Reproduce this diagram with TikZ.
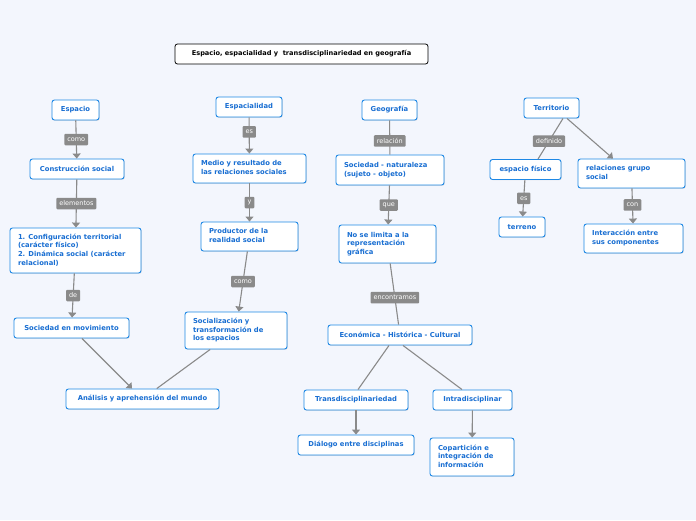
\documentclass[tikz,border=0pt]{standalone}
\usepackage{fontspec}
\setmainfont{DejaVu Sans}
\usetikzlibrary{arrows.meta,shadows}
\definecolor{bg}{RGB}{243,246,253}
\definecolor{bblue}{RGB}{30,136,229}
\definecolor{tblue}{RGB}{24,110,210}
\definecolor{lgrey}{RGB}{138,138,138}
\newcommand{\mlines}[2]{\makebox[#1][l]{\begin{tabular}{@{}l@{}}#2\end{tabular}}}
\tikzset{
  box/.style={draw=bblue, line width=0.9pt, fill=white, rounded corners=2.5pt,
    text=tblue, font=\bfseries\fontsize{6.8}{8.6}\selectfont, minimum height=20pt,
    inner xsep=8pt, inner ysep=2pt,
    drop shadow={shadow xshift=0.7pt, shadow yshift=-0.7pt, opacity=0.25, fill=black!60}},
  titlebox/.style={draw=black, line width=0.8pt, fill=white, rounded corners=2.5pt,
    text=black, font=\bfseries\fontsize{6.6}{8.5}\selectfont, minimum height=20pt},
  lbl/.style={fill=lgrey, text=white, font=\fontsize{6.5}{7}\selectfont, rounded corners=1pt,
    inner xsep=3pt, inner ysep=0pt, minimum height=11.5pt},
  conn/.style={draw=lgrey, line width=1.1pt},
  arr/.style={conn, -{Triangle[width=8pt,length=5pt]}}
}
\begin{document}
\begin{tikzpicture}[x=1pt,y=-1pt]
\useasboundingbox (0,0) rectangle (696,520);
\fill[bg] (0,0) rectangle (696,520);

% title
\node[titlebox, minimum width=253pt] (title) at (301.5,54) {Espacio, espacialidad y~ transdisciplinariedad en geografía};

% column 1
\node[box, minimum width=47pt] (espacio) at (75.5,110) {Espacio};
\node[box, minimum width=94pt] (cons) at (77,169) {Construcción social};
\node[box, minimum height=45pt] (config) at (75.5,250.5) {\mlines{115pt}{1. Configuración territorial\\(carácter físico)\\2. Dinámica social (carácter\\relacional)}};
\node[box, minimum width=115pt] (socmov) at (71.5,328) {Sociedad en movimiento};
\node[box, minimum width=153pt] (analisis) at (142.5,399) {Análisis y aprehensión del mundo};

% column 2
\node[box, minimum width=66pt] (espacialidad) at (249,107) {Espacialidad};
\node[box, minimum height=29pt] (medio) at (249.5,168.5) {\mlines{97pt}{Medio y resultado de\\las relaciones sociales}};
\node[box, minimum height=29pt] (productor) at (249.5,236.5) {\mlines{81pt}{Productor de la\\realidad social}};
\node[box, minimum height=37pt] (social) at (236,330.5) {\mlines{86pt}{Socialización y\\transformación de\\los espacios}};

% column 3
\node[box, minimum width=55pt] (geografia) at (389.5,110) {Geografía};
\node[box, minimum height=30pt] (socnat) at (390,170) {\mlines{92pt}{Sociedad - naturaleza\\(sujeto - objeto)}};
\node[box, minimum height=38pt] (nolimita) at (387.5,244) {\mlines{81pt}{No se limita a la\\representación\\gráfica}};
\node[box, minimum width=144pt] (economica) at (400,335) {Económica - Histórica - Cultural};
\node[box, minimum width=104pt] (trans) at (356,400) {Transdisciplinariedad};
\node[box, minimum width=79pt] (intra) at (472.5,400) {Intradisciplinar};
\node[box, minimum width=116pt] (dialogo) at (356,445) {Diálogo entre disciplinas};
\node[box, minimum height=38pt] (copart) at (472,457) {\mlines{68pt}{Copartición e\\integración de\\información}};

% column 4
\node[box, minimum width=55pt] (territorio) at (551.5,108) {Territorio};
\node[box, minimum width=71pt] (espfis) at (525.5,169.5) {espacio físico};
\node[box, minimum width=46pt] (terreno) at (522,227) {terreno};
\node[box, minimum height=29pt] (relac) at (631.5,173.5) {\mlines{91pt}{relaciones grupo\\social}};
\node[box, minimum height=29pt] (interac) at (633.5,238.5) {\mlines{83pt}{Interacción entre\\sus componentes}};

% connectors
\draw[arr] (espacio) -- node[lbl, pos=0.5]{como} (cons);
\draw[arr] (cons) -- node[lbl, pos=0.5]{elementos} (config);
\draw[arr] (config) -- node[lbl, pos=0.5]{de} (socmov);
\draw[arr] (socmov) -- (analisis);
\draw[conn] (social) -- (analisis);

\draw[arr] (espacialidad) -- node[lbl, pos=0.4]{es} (medio);
\draw[arr] (medio) -- node[lbl, pos=0.5]{y} (productor);
\draw[arr] (productor) -- node[lbl, pos=0.5]{como} (social);

\draw[conn] (geografia) -- node[lbl, pos=0.6]{relación} (socnat);
\draw[arr] (socnat) -- node[lbl, pos=0.5]{que} (nolimita);
\draw[conn] (nolimita) -- node[lbl, pos=0.56]{encontramos} (economica);
\draw[conn] ([xshift=-11pt]economica.south) -- ([xshift=2pt]trans.north);
\draw[conn] ([xshift=3pt]economica.south) -- ([xshift=-10.5pt]intra.north);
\draw[arr] (trans) -- (dialogo);
\draw[arr] (intra) -- (copart);

\draw[conn] ([xshift=11.5pt]territorio.south) -- node[lbl, pos=0.56]{definido} ([xshift=12.5pt]espfis.north);
\draw[arr] ([xshift=15.5pt]territorio.south) -- ([xshift=-18.5pt]relac.north);
\draw[arr] (espfis) -- node[lbl, pos=0.5]{es} (terreno);
\draw[arr] (relac) -- node[lbl, pos=0.47]{con} (interac);
\end{tikzpicture}
\end{document}
